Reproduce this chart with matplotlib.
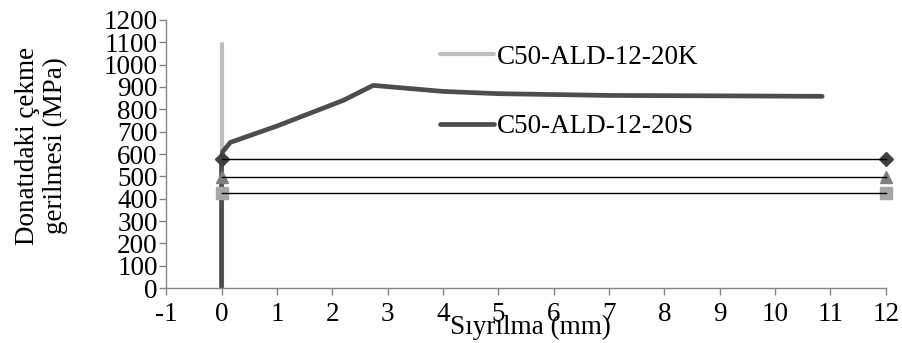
import matplotlib
matplotlib.use("Agg")
import matplotlib.pyplot as plt

plt.rcParams['font.family'] = ['Liberation Serif', 'DejaVu Serif']
plt.rcParams['font.size'] = 19.5
plt.rcParams['axes.unicode_minus'] = False

# sıyrılma (mm) / donatı gerilmesi (MPa)
slip_20K = [0.0, 0.0]
stress_20K = [0, 1090]

slip_20S = [0.0, 0.0, 0.02, 0.16, 1.0, 2.2, 2.74, 4.0, 5.0, 6.0, 7.0, 9.2, 10.85]
stress_20S = [0, 580, 610, 652, 725, 840, 907, 880, 870, 866, 862, 860, 858]

# yatay referans çizgileri
ref_x = [0, 12]
ref_levels = [578, 497, 425]
ref_markers = ['D', '^', 's']
ref_colors = ['#404040', '#7f7f7f', '#a6a6a6']

x_ticks = list(range(-1, 13))
y_ticks = list(range(0, 1201, 100))

fig = plt.figure(figsize=(9.03, 3.43), dpi=100)
ax = fig.add_axes([0.184, 0.160, 0.797, 0.782])

l1, = ax.plot(slip_20K, stress_20K, color='#bfbfbf', lw=3.0,
              solid_capstyle='round', label='C50-ALD-12-20K')
l2, = ax.plot(slip_20S, stress_20S, color='#4d4d4d', lw=3.4,
              solid_capstyle='round', solid_joinstyle='round',
              label='C50-ALD-12-20S')

for lev, mk, col in zip(ref_levels, ref_markers, ref_colors):
    ax.plot(ref_x, [lev, lev], color='black', lw=1.0, zorder=3, clip_on=False)
    ax.plot(ref_x, [lev, lev], ls='none', marker=mk, ms=7 if mk == 'D' else 8,
            color=col, zorder=2.5, clip_on=False)

ax.set_xlim(-1, 12)
ax.set_ylim(0, 1200)
ax.set_xticks(x_ticks)
ax.set_yticks(y_ticks)
for s in ['top', 'right']:
    ax.spines[s].set_visible(False)
for s in ['left', 'bottom']:
    ax.spines[s].set_color('#868686')
    ax.spines[s].set_linewidth(1.0)
ax.tick_params(axis='both', direction='out', length=5, width=1.0,
               color='#868686', labelsize=19.5, pad=1)
ax.tick_params(axis='x', pad=5)

ax.set_xlabel('Sıyrılma (mm)', fontsize=19.5)
ax.xaxis.set_label_coords(0.506, -0.10)
ax.set_ylabel('Donatıdaki çekme\ngerilmesi (MPa)', fontsize=19.5,
              linespacing=1.15)
ax.yaxis.set_label_coords(-0.137, 0.53)

fig.legend(handles=[l1, l2], loc='upper left',
           bbox_to_anchor=(0.487, 0.87), frameon=False,
           handlelength=2.0, handletextpad=0.1, labelspacing=1.65,
           borderaxespad=0, borderpad=0)

fig.savefig('out.png', dpi=100)
